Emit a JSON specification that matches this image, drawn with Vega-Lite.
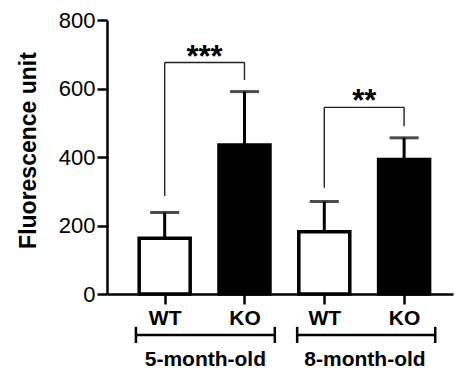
{
  "$schema": "https://vega.github.io/schema/vega-lite/v6.json",
  "width": 346,
  "height": 274,
  "autosize": "none",
  "padding": {"left": 107, "top": 20, "right": 2, "bottom": 78},
  "config": {
    "font": "Liberation Sans",
    "view": {"stroke": null},
    "axis": {"grid": false, "domainColor": "black", "tickColor": "black", "labelColor": "black", "titleColor": "black", "domainWidth": 2.5, "tickWidth": 2.5}
  },
  "datasets": {
    "bars": [
      {"x": 1, "genotype": "WT", "y": 163, "y2": 238},
      {"x": 2, "genotype": "KO", "y": 435, "y2": 591},
      {"x": 3, "genotype": "WT", "y": 182, "y2": 270},
      {"x": 4, "genotype": "KO", "y": 393, "y2": 456}
    ],
    "sig": [
      {"x": 1, "x2": 1, "y": 286, "y2": 676},
      {"x": 1, "x2": 2, "y": 676, "y2": 676},
      {"x": 2, "x2": 2, "y": 625, "y2": 676},
      {"x": 3, "x2": 3, "y": 310, "y2": 545},
      {"x": 3, "x2": 4, "y": 545, "y2": 545},
      {"x": 4, "x2": 4, "y": 490, "y2": 545}
    ],
    "stars": [
      {"x": 1.5, "y": 668, "label": "***"},
      {"x": 3.5, "y": 541, "label": "**"}
    ],
    "groups": [
      {"x": 0.64, "x2": 2.38, "y": -120, "y2": -120},
      {"x": 0.64, "x2": 0.64, "y": -96, "y2": -143},
      {"x": 2.38, "x2": 2.38, "y": -96, "y2": -143},
      {"x": 2.66, "x2": 4.39, "y": -120, "y2": -120},
      {"x": 2.66, "x2": 2.66, "y": -96, "y2": -143},
      {"x": 4.39, "x2": 4.39, "y": -96, "y2": -143}
    ],
    "grouplabels": [
      {"x": 1.51, "y": -193, "label": "5-month-old"},
      {"x": 3.51, "y": -193, "label": "8-month-old"}
    ]
  },
  "layer": [
    {
      "data": {"name": "bars"},
      "mark": {"type": "bar", "size": 51, "stroke": "black", "strokeWidth": 3.5},
      "encoding": {
        "x": {"field": "x", "type": "quantitative", "title": null,
          "scale": {"domain": [0.34, 4.55], "nice": false, "zero": false},
          "axis": {"values": [1, 2, 3, 4], "labelExpr": "datum.value % 2 == 1 ? 'WT' : 'KO'", "tickSize": 10, "labelFontSize": 21, "labelFontWeight": "bold", "labelPadding": 3, "labelFlush": false, "labelOverlap": false}},
        "y": {"field": "y", "type": "quantitative", "title": "Fluorescence unit",
          "scale": {"domain": [0, 800], "nice": false},
          "axis": {"values": [0, 200, 400, 600, 800], "tickSize": 10, "labelFontSize": 22, "labelPadding": 2, "titleFontSize": 23, "titleFontWeight": "bold", "titlePadding": 18, "titleY": 130, "labelFlush": false}},
        "fill": {"field": "genotype", "type": "nominal", "scale": {"domain": ["WT", "KO"], "range": ["white", "black"]}, "legend": null}
      }
    },
    {
      "data": {"name": "bars"},
      "mark": {"type": "rule", "color": "black", "strokeWidth": 3},
      "encoding": {
        "x": {"field": "x", "type": "quantitative", "title": null},
        "y": {"field": "y", "type": "quantitative", "title": "Fluorescence unit"},
        "y2": {"field": "y2"}
      }
    },
    {
      "data": {"name": "bars"},
      "mark": {"type": "tick", "orient": "horizontal", "color": "black", "size": 29, "thickness": 3},
      "encoding": {
        "x": {"field": "x", "type": "quantitative", "title": null},
        "y": {"field": "y2", "type": "quantitative", "title": "Fluorescence unit"}
      }
    },
    {
      "data": {"name": "sig"},
      "mark": {"type": "rule", "color": "#222222", "strokeWidth": 1.4},
      "encoding": {
        "x": {"field": "x", "type": "quantitative", "title": null},
        "x2": {"field": "x2"},
        "y": {"field": "y", "type": "quantitative", "title": "Fluorescence unit"},
        "y2": {"field": "y2"}
      }
    },
    {
      "data": {"name": "stars"},
      "mark": {"type": "text", "fontSize": 31, "fontWeight": "bold", "align": "center", "baseline": "alphabetic", "color": "black", "dy": 2},
      "encoding": {
        "x": {"field": "x", "type": "quantitative", "title": null},
        "y": {"field": "y", "type": "quantitative", "title": "Fluorescence unit"},
        "text": {"field": "label"}
      }
    },
    {
      "data": {"name": "groups"},
      "mark": {"type": "rule", "color": "black", "strokeWidth": 2.5},
      "encoding": {
        "x": {"field": "x", "type": "quantitative", "title": null},
        "x2": {"field": "x2"},
        "y": {"field": "y", "type": "quantitative", "title": "Fluorescence unit"},
        "y2": {"field": "y2"}
      }
    },
    {
      "data": {"name": "grouplabels"},
      "mark": {"type": "text", "fontSize": 21, "fontWeight": "bold", "align": "center", "baseline": "middle", "color": "black"},
      "encoding": {
        "x": {"field": "x", "type": "quantitative", "title": null},
        "y": {"field": "y", "type": "quantitative", "title": "Fluorescence unit"},
        "text": {"field": "label"}
      }
    }
  ]
}
